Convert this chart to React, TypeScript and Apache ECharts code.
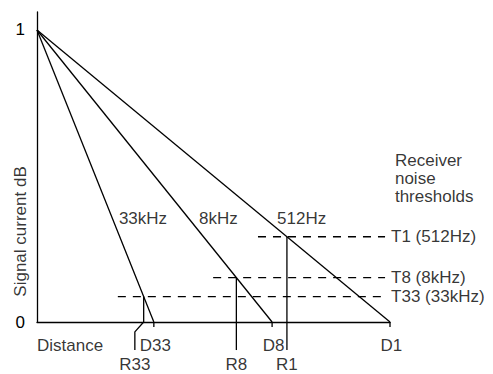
import React, { useEffect, useRef } from "react";
import * as echarts from "echarts";

// Distances (x) where each signal line reaches zero: D33, D8, D1
const dLabels = ["D33", "D8", "D1"];
const dValues = [33.1, 66.6, 100];
// Frequency of each line
const freqLabels = ["33kHz", "8kHz", "512Hz"];
// Receiver noise thresholds (signal level)
const thresholdLabels = ["T33 (33kHz)", "T8 (8kHz)", "T1 (512Hz)"];
const thresholdValues = [0.087, 0.152, 0.292];
// Range labels
const rLabels = ["R33", "R8", "R1"];
// Y tick labels
const yTicks = [0, 1];

// layout constants (not data)
const thresholdStart = [22.9, 49.9, 62.6];
const thresholdEnd = 98.6;
const freqLabelX = [23.2, 45.9, 68];
const freqLabelY = 0.356;
const rBottom = -0.096;
const dTickBottom = -0.017;
const dLabelY = -0.079;
const rLabelY = -0.147;

const FONT = "'Liberation Sans', Arial, Helvetica, sans-serif";

export default function App() {
  const ref = useRef<HTMLDivElement>(null);
  useEffect(() => {
    if (!ref.current) return;
    const chart = echarts.init(ref.current, undefined, { renderer: "svg" });
    const lineStyle = { color: "#000", width: 1.3 };
    const series: any[] = [];
    const rValues = dValues.map((d, i) => d * (1 - thresholdValues[i]));

    // signal lines
    dValues.forEach((d, i) => {
      series.push({
        type: "line",
        data: [[0, 1], [d, 0]],
        symbol: "none",
        lineStyle,
        clip: false,
        silent: true,
      });
      // D tick
      series.push({
        type: "line",
        data: [[d, 0], [d, dTickBottom]],
        symbol: "none",
        lineStyle,
        clip: false,
      });
    });
    // thresholds
    thresholdValues.forEach((t, i) => {
      series.push({
        type: "line",
        data: [[thresholdStart[i], t], [thresholdEnd, t]],
        symbol: "none",
        lineStyle: { color: "#000", width: 1.3, type: [8, 7] },
        clip: false,
      });
    });
    // R lines
    const rLabelX: number[] = [];
    rValues.forEach((r, i) => {
      let pts: number[][];
      if (i === 0) {
        const bx = r - 2.5;
        pts = [[r, thresholdValues[i]], [r, 0], [bx, -0.034], [bx, rBottom]];
        rLabelX.push(bx);
      } else {
        pts = [[r, thresholdValues[i]], [r, rBottom]];
        rLabelX.push(r);
      }
      series.push({
        type: "line",
        data: pts,
        symbol: "none",
        lineStyle,
        clip: false,
      });
    });

    const txt = (x: number, y: number, name: string, align = "left", extra: any = {}) => ({
      value: [x, y],
      name,
      label: {
        show: true,
        position: [0, 0],
        align,
        verticalAlign: "middle",
        formatter: name,
        color: "#000",
        fontSize: 17,
        fontFamily: FONT,
        ...extra,
      },
    });

    const labels: any[] = [];
    freqLabels.forEach((f, i) => labels.push(txt(freqLabelX[i], freqLabelY, f)));
    thresholdLabels.forEach((l, i) => labels.push(txt(100.3, thresholdValues[i], l)));
    dLabels.forEach((l, i) => labels.push(txt(dValues[i] + 0.4, dLabelY, l, "center")));
    rLabels.forEach((l, i) => labels.push(txt(rLabelX[i], rLabelY, l, "center")));
    labels.push(txt(0, dLabelY, "Distance"));
    labels.push(txt(101.4, 0.49, "Receiver\nnoise\nthresholds", "left", { lineHeight: 18 }));
    labels.push(txt(-4.6, 0.31, "Signal current dB", "center", { rotate: 90 }));

    series.push({
      type: "scatter",
      data: labels,
      symbolSize: 0,
      clip: false,
      silent: true,
    });

    chart.setOption({
      animation: false,
      grid: { left: 37, right: 103, top: 12, bottom: 52, containLabel: false },
      xAxis: {
        type: "value",
        min: 0,
        max: 100,
        axisLine: { show: true, onZero: false, lineStyle: { color: "#000", width: 1.3 } },
        axisTick: { show: false },
        axisLabel: { show: false },
        splitLine: { show: false },
      },
      yAxis: {
        type: "value",
        min: 0,
        max: 1.0616,
        interval: 1,
        axisLine: { show: true, lineStyle: { color: "#000", width: 1.3 } },
        axisTick: { show: false },
        splitLine: { show: false },
        axisLabel: {
          margin: 12,
          color: "#000",
          fontSize: 17,
          fontFamily: FONT,
          formatter: (v: number) => (yTicks.includes(v) ? String(v) : ""),
        },
      },
      series,
    });
    return () => chart.dispose();
  }, []);
  return (
    <div
      ref={ref}
      style={{ position: "fixed", left: 0, top: 0, width: 493, height: 374, background: "#fff" }}
    />
  );
}
